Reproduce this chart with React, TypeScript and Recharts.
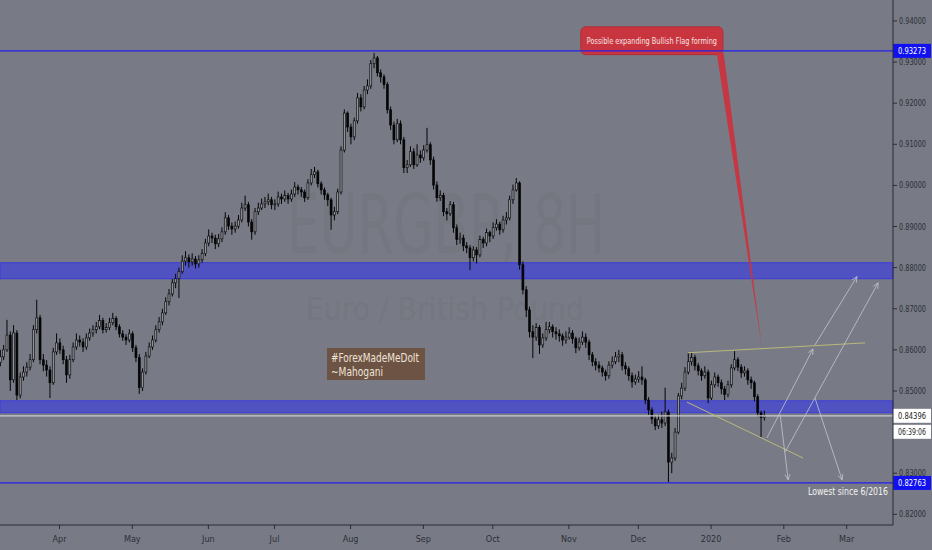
import React from 'react';
import { ComposedChart, Bar, XAxis, YAxis, ReferenceLine, ReferenceArea } from 'recharts';

// EURGBP 8H, one candle per trading day
const closes = [
  0.8583, 0.8600, 0.8636, 0.8527, 0.8641, 0.8490, 0.8534, 0.8546, 0.8558, 0.8576,
  0.8649, 0.8678, 0.8576, 0.8563, 0.8551, 0.8520, 0.8595, 0.8617, 0.8600, 0.8576,
  0.8539, 0.8576, 0.8607, 0.8624, 0.8619, 0.8607, 0.8629, 0.8641, 0.8649, 0.8656,
  0.8671, 0.8649, 0.8654, 0.8666, 0.8676, 0.8656, 0.8639, 0.8631, 0.8624, 0.8639,
  0.8605, 0.8581, 0.8508, 0.8546, 0.8585, 0.8607, 0.8624, 0.8649, 0.8668, 0.8690,
  0.8717, 0.8736, 0.8763, 0.8773, 0.8790, 0.8816, 0.8824, 0.8814, 0.8821, 0.8809,
  0.8819, 0.8834, 0.8860, 0.8877, 0.8872, 0.8858, 0.8870, 0.8887, 0.8921, 0.8901,
  0.8894, 0.8901, 0.8916, 0.8945, 0.8953, 0.8911, 0.8887, 0.8936, 0.8945, 0.8955,
  0.8960, 0.8965, 0.8953, 0.8955, 0.8972, 0.8967, 0.8975, 0.8967, 0.8979, 0.8996,
  0.8989, 0.8984, 0.8970, 0.9006, 0.9026, 0.9033, 0.9004, 0.8989, 0.8977, 0.8965,
  0.8928, 0.8936, 0.8984, 0.9086, 0.9176, 0.9142, 0.9118, 0.9157, 0.9213, 0.9191,
  0.9232, 0.9242, 0.9296, 0.9310, 0.9274, 0.9264, 0.9245, 0.9184, 0.9147, 0.9111,
  0.9150, 0.9111, 0.9043, 0.9050, 0.9082, 0.9050, 0.9074, 0.9067, 0.9086, 0.9099,
  0.9062, 0.9001, 0.8970, 0.8975, 0.8936, 0.8931, 0.8953, 0.8897, 0.8868, 0.8872,
  0.8853, 0.8848, 0.8824, 0.8843, 0.8831, 0.8868, 0.8860, 0.8885, 0.8877, 0.8897,
  0.8906, 0.8892, 0.8916, 0.8921, 0.8965, 0.8989, 0.9006, 0.8807, 0.8746, 0.8697,
  0.8644, 0.8631, 0.8654, 0.8612, 0.8629, 0.8649, 0.8656, 0.8644, 0.8639, 0.8634,
  0.8624, 0.8631, 0.8641, 0.8627, 0.8605, 0.8619, 0.8631, 0.8619, 0.8588, 0.8571,
  0.8563, 0.8556, 0.8546, 0.8537, 0.8563, 0.8571, 0.8583, 0.8588, 0.8561, 0.8554,
  0.8537, 0.8522, 0.8529, 0.8534, 0.8527, 0.8478, 0.8454, 0.8432, 0.8415, 0.8430,
  0.8422, 0.8449, 0.8327, 0.8337, 0.8400, 0.8488, 0.8507, 0.8546, 0.8571, 0.8581,
  0.8561, 0.8549, 0.8537, 0.8546, 0.8483, 0.8515, 0.8534, 0.8520, 0.8505, 0.8491,
  0.8515, 0.8556, 0.8576, 0.8558, 0.8544, 0.8549, 0.8527, 0.8520, 0.8486, 0.8447,
  0.8435, 0.84396,
];

const highs = [
  0.8600, 0.8612, 0.8673, 0.8645, 0.8660, 0.8648, 0.8545, 0.8560, 0.8570, 0.8590,
  0.8660, 0.8722, 0.8685, 0.8590, 0.8575, 0.8560, 0.8605, 0.8640, 0.8628, 0.8610,
  0.8585, 0.8588, 0.8618, 0.8640, 0.8635, 0.8628, 0.8640, 0.8652, 0.8660, 0.8668,
  0.8685, 0.8678, 0.8665, 0.8678, 0.8690, 0.8682, 0.8662, 0.8648, 0.8638, 0.8650,
  0.8645, 0.8612, 0.8590, 0.8555, 0.8595, 0.8618, 0.8635, 0.8660, 0.8680, 0.8700,
  0.8728, 0.8748, 0.8772, 0.8785, 0.8800, 0.8830, 0.8840, 0.8832, 0.8835, 0.8828,
  0.8830, 0.8845, 0.8870, 0.8893, 0.8885, 0.8880, 0.8882, 0.8898, 0.8935, 0.8928,
  0.8910, 0.8912, 0.8928, 0.8958, 0.8975, 0.8960, 0.8918, 0.8945, 0.8958, 0.8968,
  0.8972, 0.8980, 0.8972, 0.8966, 0.8985, 0.8980, 0.8988, 0.8982, 0.8990, 0.9008,
  0.9002, 0.8996, 0.8990, 0.9015, 0.9040, 0.9045, 0.9038, 0.9010, 0.8995, 0.8982,
  0.8970, 0.8948, 0.8992, 0.9095, 0.9185, 0.9180, 0.9150, 0.9165, 0.9225, 0.9222,
  0.9242, 0.9258, 0.9305, 0.9322, 0.9315, 0.9282, 0.9270, 0.9252, 0.9192, 0.9155,
  0.9162, 0.9158, 0.9118, 0.9062, 0.9095, 0.9090, 0.9100, 0.9085, 0.9098, 0.9140,
  0.9105, 0.9070, 0.9010, 0.8988, 0.8982, 0.8945, 0.8962, 0.8960, 0.8905, 0.8885,
  0.8880, 0.8862, 0.8855, 0.8852, 0.8850, 0.8878, 0.8875, 0.8895, 0.8890, 0.8910,
  0.8918, 0.8912, 0.8926, 0.8935, 0.8975, 0.9002, 0.9018, 0.9010, 0.8815, 0.8755,
  0.8705, 0.8660, 0.8665, 0.8660, 0.8640, 0.8668, 0.8668, 0.8662, 0.8655, 0.8650,
  0.8640, 0.8645, 0.8655, 0.8648, 0.8632, 0.8630, 0.8645, 0.8640, 0.8625, 0.8595,
  0.8580, 0.8572, 0.8562, 0.8552, 0.8572, 0.8584, 0.8595, 0.8600, 0.8595, 0.8570,
  0.8560, 0.8545, 0.8540, 0.8548, 0.8560, 0.8532, 0.8485, 0.8460, 0.8440, 0.8442,
  0.8450, 0.8508, 0.8455, 0.8350, 0.8410, 0.8495, 0.8520, 0.8558, 0.8592, 0.8595,
  0.8588, 0.8568, 0.8555, 0.8560, 0.8552, 0.8525, 0.8545, 0.8540, 0.8528, 0.8512,
  0.8525, 0.8565, 0.8597, 0.8582, 0.8565, 0.8560, 0.8555, 0.8535, 0.8525, 0.8492,
  0.8452, 0.8452,
];

const lows = [
  0.8560, 0.8575, 0.8595, 0.8500, 0.8520, 0.8478, 0.8482, 0.8525, 0.8535, 0.8550,
  0.8570, 0.8640, 0.8565, 0.8548, 0.8535, 0.8483, 0.8515, 0.8588, 0.8590, 0.8565,
  0.8520, 0.8530, 0.8570, 0.8600, 0.8608, 0.8595, 0.8600, 0.8622, 0.8632, 0.8640,
  0.8650, 0.8640, 0.8642, 0.8648, 0.8660, 0.8648, 0.8630, 0.8622, 0.8612, 0.8618,
  0.8595, 0.8570, 0.8493, 0.8500, 0.8540, 0.8580, 0.8600, 0.8618, 0.8642, 0.8660,
  0.8685, 0.8708, 0.8730, 0.8750, 0.8726, 0.8785, 0.8805, 0.8800, 0.8805, 0.8798,
  0.8800, 0.8812, 0.8828, 0.8852, 0.8860, 0.8845, 0.8850, 0.8862, 0.8880, 0.8892,
  0.8880, 0.8885, 0.8895, 0.8910, 0.8938, 0.8900, 0.8868, 0.8880, 0.8928, 0.8940,
  0.8945, 0.8952, 0.8942, 0.8940, 0.8948, 0.8955, 0.8960, 0.8955, 0.8960, 0.8972,
  0.8978, 0.8972, 0.8960, 0.8965, 0.9000, 0.9018, 0.8995, 0.8978, 0.8965, 0.8950,
  0.8892, 0.8915, 0.8930, 0.8978, 0.9080, 0.9130, 0.9100, 0.9110, 0.9150, 0.9180,
  0.9185, 0.9222, 0.9235, 0.9285, 0.9265, 0.9250, 0.9235, 0.9175, 0.9135, 0.9100,
  0.9105, 0.9100, 0.9030, 0.9030, 0.9045, 0.9040, 0.9045, 0.9055, 0.9060, 0.9080,
  0.9050, 0.8990, 0.8960, 0.8962, 0.8925, 0.8915, 0.8925, 0.8885, 0.8855, 0.8858,
  0.8840, 0.8835, 0.8794, 0.8815, 0.8810, 0.8825, 0.8848, 0.8852, 0.8862, 0.8870,
  0.8890, 0.8880, 0.8885, 0.8905, 0.8915, 0.8955, 0.8985, 0.8795, 0.8735, 0.8680,
  0.8630, 0.8580, 0.8622, 0.8590, 0.8605, 0.8622, 0.8640, 0.8630, 0.8625, 0.8620,
  0.8610, 0.8615, 0.8625, 0.8615, 0.8592, 0.8598, 0.8612, 0.8605, 0.8575, 0.8560,
  0.8550, 0.8545, 0.8535, 0.8525, 0.8530, 0.8555, 0.8565, 0.8570, 0.8550, 0.8540,
  0.8525, 0.8508, 0.8515, 0.8520, 0.8515, 0.8468, 0.8442, 0.8420, 0.8405, 0.8408,
  0.8410, 0.8415, 0.8278, 0.8300, 0.8330, 0.8395, 0.8480, 0.8500, 0.8540, 0.8562,
  0.8550, 0.8538, 0.8525, 0.8530, 0.8470, 0.8478, 0.8508, 0.8510, 0.8492, 0.8478,
  0.8485, 0.8508, 0.8550, 0.8548, 0.8532, 0.8535, 0.8515, 0.8505, 0.8475, 0.8438,
  0.8388, 0.8428,
];

const firstOpen = 0.857;

const monthTicks = [18, 40, 63, 83, 106, 128, 149, 172, 193, 215, 237, 256];
const monthLabels = ['Apr', 'May', 'Jun', 'Jul', 'Aug', 'Sep', 'Oct', 'Nov', 'Dec', '2020', 'Feb', 'Mar'];
const priceTicks = [0.82, 0.83, 0.85, 0.86, 0.87, 0.88, 0.89, 0.9, 0.91, 0.92, 0.93, 0.94];

const topLevel = 0.93273;
const bottomLevel = 0.82763;
const lastPrice = 0.84396;
const countdown = '06:39:06';
const zones: [number, number][] = [
  [0.8773, 0.8812],
  [0.8447, 0.8476],
];

// flag trendlines and the projected paths (bar index, price)
const flagLines = [
  [{ x: 208, y: 0.8593 }, { x: 261.6, y: 0.8617 }],
  [{ x: 207.7, y: 0.8473 }, { x: 242.8, y: 0.8337 }],
];
const arrows = [
  [{ x: 231.9, y: 0.8386 }, { x: 245.8, y: 0.8602 }],
  [{ x: 246.4, y: 0.8612 }, { x: 259.1, y: 0.8778 }],
  [{ x: 235.9, y: 0.8442 }, { x: 238.3, y: 0.8284 }],
  [{ x: 237.4, y: 0.8352 }, { x: 265.5, y: 0.8763 }],
  [{ x: 246.4, y: 0.8483 }, { x: 254.6, y: 0.8284 }],
];
const noteText = 'Possible expanding Bullish Flag forming';
const noteBox = { x1: 175.6, x2: 218.6, y1: 0.9318, y2: 0.9386 };
const notePointer = [{ x: 217.6, y: 0.9322 }, { x: 230.4, y: 0.8604 }];

const data = closes.map((c, i) => ({
  i,
  o: i === 0 ? firstOpen : closes[i - 1],
  c,
  h: highs[i],
  l: lows[i],
  range: [lows[i], highs[i]],
}));

const BG = '#787b86';
const FONT = "'DejaVu Sans Condensed', 'Liberation Sans', sans-serif";
const AXIS_TEXT = '#2c2f37';

const Candle = (props: any) => {
  const { x, y, width, height, payload } = props;
  if (x == null || y == null || !payload) return null;
  const top = Math.min(y, y + height);
  const hgt = Math.abs(height);
  const { o, c, h, l } = payload;
  const py = (v: number) => top + ((h - v) / (h - l || 1)) * hgt;
  const cx = x + width / 2;
  const b1 = py(Math.max(o, c));
  const b2 = py(Math.min(o, c));
  const up = c >= o;
  return (
    <g>
      <line x1={cx} x2={cx} y1={top} y2={top + hgt} stroke="#050505" strokeWidth={1} />
      <rect
        x={x}
        y={b1}
        width={width}
        height={Math.max(1, b2 - b1)}
        fill={up ? '#8f929b' : '#050505'}
        stroke="#050505"
        strokeWidth={0.6}
      />
    </g>
  );
};

const PriceTick = (props: any) => {
  const { x, y, payload } = props;
  return (
    <text x={x} y={y + 3} fontSize={9} fontFamily={FONT} fill={AXIS_TEXT} textLength={27} lengthAdjust="spacingAndGlyphs">
      {payload.value.toFixed(5)}
    </text>
  );
};

const MonthTick = (props: any) => {
  const { x, y, payload } = props;
  const label = monthLabels[monthTicks.indexOf(payload.value)] ?? '';
  return (
    <text x={x} y={y + 9} fontSize={9} fontFamily={FONT} fill={AXIS_TEXT} textAnchor="middle">
      {label}
    </text>
  );
};

const boxText = (x: number, y: number, s: string, fill: string) => (
  <text x={x + 5} y={y} fontSize={9} fontFamily={FONT} fill={fill} textLength={28} lengthAdjust="spacingAndGlyphs">
    {s}
  </text>
);

const levelShape = (color: string, label: string, boxFill: string, textFill: string, extra?: string) => (p: any) => {
  const xl = Math.min(p.x1, p.x2);
  const xr = Math.max(p.x1, p.x2);
  const y = p.y1;
  return (
    <g>
      <line x1={xl} y1={y} x2={xr} y2={y} stroke={color} strokeWidth={1.3} />
      <rect x={xr} y={y - 7} width={38} height={14} fill={boxFill} />
      {boxText(xr, y + 3.5, label, textFill)}
      {extra ? (
        <g>
          <rect x={xr} y={y + 9} width={38} height={14} fill="#ffffff" />
          {boxText(xr, y + 19.5, extra, '#222')}
        </g>
      ) : null}
    </g>
  );
};

const arrowShape = (p: any) => {
  const { x1, y1, x2, y2 } = p;
  const ang = Math.atan2(y2 - y1, x2 - x1);
  const L = 6;
  const a = 0.45;
  const h1 = `${x2 - L * Math.cos(ang - a)},${y2 - L * Math.sin(ang - a)}`;
  const h2 = `${x2 - L * Math.cos(ang + a)},${y2 - L * Math.sin(ang + a)}`;
  return (
    <g stroke="#c4c6cc" strokeWidth={0.8} fill="none">
      <line x1={x1} y1={y1} x2={x2} y2={y2} />
      <polyline points={`${h1} ${x2},${y2} ${h2}`} />
    </g>
  );
};

const pointerShape = (p: any) => {
  const { x1, y1, x2, y2 } = p;
  return <polygon points={`${x1 - 3},${y1} ${x1 + 4},${y1} ${x2},${y2}`} fill="#c9353f" opacity={0.95} />;
};

const noteShape = (p: any) => (
  <g>
    <rect x={p.x} y={p.y} width={p.width} height={p.height} rx={5} fill="#c9353f" stroke="#b02a33" strokeWidth={0.8} />
    <text
      x={p.x + 6}
      y={p.y + p.height / 2 + 3}
      fontSize={9}
      fontFamily={FONT}
      fill="#f4e4e4"
      textLength={p.width - 12}
      lengthAdjust="spacingAndGlyphs"
    >
      {noteText}
    </text>
  </g>
);

export default function App() {
  return (
    <div style={{ position: 'absolute', left: 0, top: 0, width: 932, height: 550, background: BG, overflow: 'hidden' }}>
      <svg width={932} height={550} style={{ position: 'absolute', left: 0, top: 0 }}>
        <text x={287} y={253} fontSize={82} fontFamily={FONT} fill="#74777f" textLength={318} lengthAdjust="spacingAndGlyphs">
          EURGBP, 8H
        </text>
        <text x={306} y={320} fontSize={32} fontFamily={FONT} fill="#74777f" textLength={278} lengthAdjust="spacingAndGlyphs">
          Euro / British Pound
        </text>
      </svg>
      <div style={{ position: 'absolute', left: 0, top: 0 }}>
        <ComposedChart width={932} height={550} data={data} margin={{ top: 0, right: 0, bottom: 0, left: 0 }}>
          <XAxis
            dataKey="i"
            type="number"
            domain={[0, 270]}
            allowDataOverflow
            ticks={monthTicks}
            height={25}
            tickSize={4}
            tickMargin={4}
            axisLine={{ stroke: '#2a2c33' }}
            tickLine={{ stroke: '#2a2c33' }}
            tick={<MonthTick />}
          />
          <YAxis
            orientation="right"
            type="number"
            domain={[0.8174, 0.9451]}
            allowDataOverflow
            ticks={priceTicks}
            width={39}
            tickSize={4}
            tickMargin={2}
            axisLine={{ stroke: '#2a2c33' }}
            tickLine={{ stroke: '#2a2c33' }}
            tick={<PriceTick />}
          />
          {zones.map(([lo, hi], k) => (
            <ReferenceArea key={`z${k}`} y1={lo} y2={hi} fill="#5052c2" fillOpacity={1} stroke="#3b3cd8" strokeWidth={1} />
          ))}
          <ReferenceLine y={lastPrice} shape={levelShape('#c9cacf', lastPrice.toFixed(5), '#ffffff', '#222', countdown)} />
          <Bar dataKey="range" barSize={2} shape={Candle} isAnimationActive={false} />
          <ReferenceLine y={topLevel} shape={levelShape('#2020ee', topLevel.toFixed(5), '#1010f0', '#ffffff')} />
          <ReferenceLine y={bottomLevel} shape={levelShape('#2020ee', bottomLevel.toFixed(5), '#1010f0', '#ffffff')} />
          {flagLines.map((seg, k) => (
            <ReferenceLine key={`f${k}`} segment={seg} stroke="#b9b97a" strokeWidth={1} />
          ))}
          {arrows.map((seg, k) => (
            <ReferenceLine key={`a${k}`} segment={seg} shape={arrowShape} />
          ))}
          <ReferenceLine segment={notePointer} shape={pointerShape} />
          <ReferenceArea x1={noteBox.x1} x2={noteBox.x2} y1={noteBox.y1} y2={noteBox.y2} shape={noteShape} />
        </ComposedChart>
      </div>
      <svg width={932} height={550} style={{ position: 'absolute', left: 0, top: 0, pointerEvents: 'none' }}>
        <rect x={327} y={348} width={98} height={32} fill="#6d5343" />
        <text x={331} y={362} fontSize={12} fontFamily={FONT} fill="#efe4da" textLength={88} lengthAdjust="spacingAndGlyphs">
          #ForexMadeMeDoIt
        </text>
        <text x={331} y={376} fontSize={12} fontFamily={FONT} fill="#efe4da" textLength={52} lengthAdjust="spacingAndGlyphs">
          ~Mahogani
        </text>
        <text x={808} y={495} fontSize={11} fontFamily={FONT} fill="#f2f2f2" textLength={80} lengthAdjust="spacingAndGlyphs">
          Lowest since 6/2016
        </text>
      </svg>
    </div>
  );
}
